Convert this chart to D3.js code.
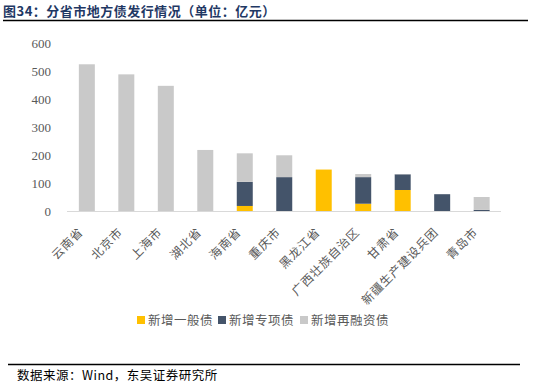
<!DOCTYPE html>
<html><head><meta charset="utf-8">
<script src="https://cdn.jsdelivr.net/npm/d3@7"></script>
<style>body{margin:0;background:#fff}svg{display:block}</style>
</head><body>
<svg id="c" width="543" height="392"></svg>
<script>
const categories = ["云南省","北京市","上海市","湖北省","海南省","重庆市","黑龙江省","广西壮族自治区","甘肃省","新疆生产建设兵团","青岛市"];
const general   = [0,0,0,0,18,0,148,26,75,0,0];
const special   = [0,0,0,0,86,121,0,95,56,60,4];
const refinance = [524,488,447,218,102,78,0,11,1,0,46];
const seriesNames = ["新增一般债","新增专项债","新增再融资债"];
const yTicks = [0,100,200,300,400,500,600];
const colors = ["#FFC000","#44546A","#C9C9C9"];

const svg = d3.select("#c");
const x = d3.scaleBand().domain(categories).range([67, 501.5]).paddingInner(0.595).paddingOuter(0.3);
const y = d3.scaleLinear().domain([0,600]).range([211, 43]);

// title
svg.append("text").attr("x",3).attr("y",15.5).attr("font-family","'Noto Sans CJK SC'")
  .attr("font-size",13).attr("letter-spacing",0.5).attr("font-weight","bold").attr("fill","#1F3864")
  .text("图34：分省市地方债发行情况（单位：亿元）");
svg.append("line").attr("x1",3).attr("x2",528).attr("y1",20.5).attr("y2",20.5).attr("stroke","#000").attr("stroke-width",1.3);

// y axis labels
svg.append("g").selectAll("text").data(yTicks).join("text")
  .attr("x",51).attr("y",d=>y(d)+4.5).attr("text-anchor","end")
  .attr("font-family","'Liberation Serif'").attr("font-size",13).attr("fill","#595959")
  .text(d=>d);

// stacked bars
const rows = categories.map((c,i)=>({cat:c, s0:general[i], s1:special[i], s2:refinance[i]}));
const stack = d3.stack().keys(["s0","s1","s2"])(rows);
svg.append("g").selectAll("g").data(stack).join("g").attr("fill",(d,i)=>colors[i])
  .selectAll("rect").data(d=>d).join("rect")
  .attr("x",d=>x(d.data.cat)).attr("width",x.bandwidth())
  .attr("y",d=>y(d[1])).attr("height",d=>Math.max(0,y(d[0])-y(d[1])));

// axis line
svg.append("line").attr("x1",67).attr("x2",501).attr("y1",211.5).attr("y2",211.5).attr("stroke","#D9D9D9").attr("stroke-width",1);

// x labels
svg.append("g").selectAll("text").data(categories).join("text")
  .attr("transform",d=>`translate(${x(d)+x.bandwidth()/2-3},${233}) rotate(-45)`)
  .attr("text-anchor","end").attr("font-family","'Noto Sans CJK SC'").attr("font-size",12)
  .attr("letter-spacing",0.8)
  .attr("fill","#595959").text(d=>d);

// legend
const lg = svg.append("g");
const lx = [137, 218, 300];
seriesNames.forEach((n,i)=>{
  lg.append("rect").attr("x",lx[i]).attr("y",316).attr("width",8).attr("height",8).attr("fill",colors[i]);
  lg.append("text").attr("x",lx[i]+11).attr("y",325).attr("font-family","'Noto Sans CJK SC'")
    .attr("font-size",12.5).attr("letter-spacing",0.5).attr("fill","#595959").text(n);
});

// source
svg.append("line").attr("x1",8).attr("x2",520).attr("y1",364.5).attr("y2",364.5).attr("stroke","#000").attr("stroke-width",1.3);
svg.append("text").attr("x",17).attr("y",380).attr("font-family","'Noto Sans CJK SC'")
  .attr("font-size",12.5).attr("letter-spacing",0.5).attr("fill","#000").text("数据来源：Wind，东吴证券研究所");
</script>
</body></html>
